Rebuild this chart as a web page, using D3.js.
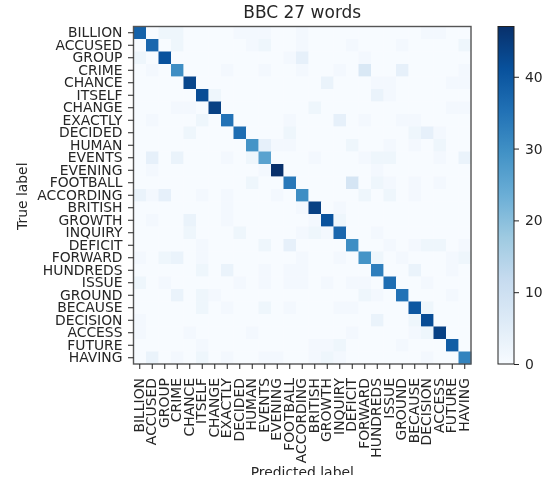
<!DOCTYPE html>
<html><head><meta charset="utf-8">
<script src="https://cdn.jsdelivr.net/npm/d3@7"></script>
<style>html,body{margin:0;padding:0;background:#fff}svg{display:block;filter:blur(0.4px)}text{font-family:"DejaVu Sans",sans-serif;fill:#262626}</style>
</head><body><div id="c"></div>
<script>
const words=["BILLION","ACCUSED","GROUP","CRIME","CHANCE","ITSELF","CHANGE","EXACTLY","DECIDED","HUMAN","EVENTS","EVENING","FOOTBALL","ACCORDING","BRITISH","GROWTH","INQUIRY","DEFICIT","FORWARD","HUNDREDS","ISSUE","GROUND","BECAUSE","DECISION","ACCESS","FUTURE","HAVING"];
const colorbarTicks=[0,10,20,30,40];
const blues=["#f7fbff","#deebf7","#c6dbef","#9ecae1","#6baed6","#4292c6","#2171b5","#08519c","#08306b"];
const r00=[38,0,2,2,0,0,0,0,1,1,1,0,0,1,0,0,0,0,0,0,0,0,0,1,1,0,0];
const r01=[0,37,0,2,0,0,0,0,0,1,2,0,0,1,0,0,0,1,0,0,0,1,0,0,0,0,2];
const r02=[2,0,41,0,0,0,0,0,0,0,0,0,1,4,0,0,0,0,1,0,0,0,0,0,0,0,0];
const r03=[0,1,0,30,0,0,0,1,0,0,1,0,0,1,0,0,1,0,7,0,0,4,0,0,0,0,1];
const r04=[0,0,0,0,43,0,0,0,0,0,0,0,0,0,0,3,0,0,0,1,1,0,0,0,0,1,1];
const r05=[0,0,0,0,0,42,2,0,0,0,0,0,0,0,0,0,0,0,0,3,1,0,0,0,0,0,0];
const r06=[0,0,0,1,1,0,44,0,0,0,0,0,0,0,2,0,0,0,0,0,0,0,0,0,0,1,1];
const r07=[0,1,0,0,0,2,0,35,0,0,0,0,1,0,0,0,4,0,1,0,0,1,1,0,0,0,0];
const r08=[0,0,0,0,2,0,0,0,36,0,0,0,2,0,0,0,0,0,0,0,0,0,2,4,1,0,0];
const r09=[0,0,0,0,0,0,0,0,0,29,4,1,1,0,0,0,0,2,0,0,1,0,1,0,2,0,0];
const r10=[0,4,0,3,0,0,0,1,0,2,26,0,0,0,1,0,0,0,1,2,2,0,0,0,1,0,3];
const r11=[0,1,0,0,0,0,0,0,0,0,1,47,0,0,0,0,0,0,0,1,0,0,0,0,0,0,0];
const r12=[0,0,0,0,0,0,0,0,0,2,0,0,34,0,0,0,0,8,0,2,1,0,1,0,1,0,0];
const r13=[3,1,4,0,0,1,0,1,0,0,0,1,0,30,0,0,0,0,2,0,2,0,1,0,0,0,0];
const r14=[0,0,0,0,0,0,0,1,0,0,0,0,0,1,44,0,1,0,0,0,0,0,0,0,0,0,0];
const r15=[0,1,0,0,3,0,0,1,0,0,0,0,0,0,1,41,2,0,0,0,0,0,0,0,0,0,0];
const r16=[0,0,0,0,2,0,0,0,2,0,0,0,0,1,2,1,37,0,0,1,0,0,0,0,0,0,0];
const r17=[0,0,0,0,0,1,0,0,0,0,2,0,4,0,0,0,0,30,0,0,1,0,1,2,2,0,1];
const r18=[1,0,2,3,0,1,0,0,0,0,0,0,0,1,0,0,1,0,29,2,0,1,0,0,0,1,2];
const r19=[0,0,0,0,0,2,0,3,0,0,1,0,1,1,0,0,0,0,0,33,0,0,3,0,0,1,0];
const r20=[2,0,1,0,0,0,0,0,1,0,1,0,1,1,0,1,0,1,1,0,36,0,0,1,0,0,0];
const r21=[0,0,0,3,0,2,1,0,0,0,0,0,0,0,0,0,0,0,2,1,0,35,0,0,0,1,0];
const r22=[0,0,0,0,0,2,0,1,0,0,2,0,1,0,0,0,1,1,0,0,0,0,40,2,0,0,0];
const r23=[1,0,0,0,0,0,0,0,0,0,0,0,0,0,0,0,0,0,0,3,0,0,2,42,0,0,0];
const r24=[1,0,0,0,1,0,0,0,0,1,0,0,0,0,0,0,0,1,0,0,0,0,1,2,44,0,0];
const r25=[0,0,0,0,0,1,0,0,0,0,0,0,0,0,1,1,2,0,0,0,0,1,0,0,0,39,0];
const r26=[0,3,0,1,0,2,0,1,0,0,1,1,0,0,1,2,1,0,0,0,0,0,0,1,0,0,32];
const matrix=[r00,r01,r02,r03,r04,r05,r06,r07,r08,r09,r10,r11,r12,r13,r14,r15,r16,r17,r18,r19,r20,r21,r22,r23,r24,r25,r26];

const W=553,H=480,L=133.5,T=26.5,S=337.5,CX=498,CW=16,vmax=47,FS=13.9;
const svg=d3.select("#c").append("svg").attr("width",W).attr("height",H);
const x=d3.scaleBand().domain(words).range([L,L+S]);
const y=d3.scaleBand().domain(words).range([T,T+S]);
const color=d3.scaleLinear().domain(blues.map((_,i)=>i/8*vmax)).range(blues);
const cells=matrix.flatMap((row,i)=>row.map((v,j)=>({v,r:words[i],c:words[j]})));
svg.append("g").attr("class","cells").selectAll("rect").data(cells).join("rect")
  .attr("x",d=>x(d.c)).attr("y",d=>y(d.r)).attr("width",x.bandwidth()+.3).attr("height",y.bandwidth()+.3)
  .attr("fill",d=>color(d.v));
svg.append("rect").attr("x",L).attr("y",T).attr("width",S).attr("height",S)
  .attr("fill","none").attr("stroke","#555").attr("stroke-width",1.4);

function style(g,fs){
  g.select(".domain").remove();
  g.selectAll("line").attr("stroke","#222").attr("stroke-width",1);
  g.selectAll("text").attr("font-size",fs).attr("fill","#262626");
}
svg.append("g").attr("transform",`translate(${L},0)`).call(d3.axisLeft(y).tickSize(5.5).tickPadding(5.5)).call(style,FS);
const gx=svg.append("g").attr("transform",`translate(0,${T+S})`).call(d3.axisBottom(x).tickSize(5).tickPadding(3)).call(style,FS);
gx.selectAll("text").attr("text-anchor","end").attr("dy",0).attr("dominant-baseline","middle")
  .attr("transform","translate(0,14) rotate(-90)").attr("x",0).attr("y",0);

const cy=d3.scaleLinear().domain([0,vmax]).range([T+S,T]);
const defs=svg.append("defs");
const grad=defs.append("linearGradient").attr("id","cb").attr("x1",0).attr("x2",0).attr("y1",1).attr("y2",0);
grad.selectAll("stop").data(blues).join("stop").attr("offset",(d,i)=>i/8).attr("stop-color",d=>d);
svg.append("rect").attr("x",CX).attr("y",T).attr("width",CW).attr("height",S).attr("fill","url(#cb)").attr("stroke","#222").attr("stroke-width",1);
svg.append("g").attr("transform",`translate(${CX+CW},0)`).call(d3.axisRight(cy).tickValues(colorbarTicks).tickSize(5).tickPadding(6)).call(style,FS);

svg.append("text").attr("x",L+S/2).attr("y",18).attr("text-anchor","middle").attr("font-size",17).text("BBC 27 words");
svg.append("text").attr("transform",`translate(27,${T+S/2+1}) rotate(-90)`).attr("text-anchor","middle").attr("font-size",FS).text("True label");
const clip=defs.append("clipPath").attr("id","cut");
clip.append("rect").attr("x",0).attr("y",0).attr("width",W).attr("height",475);
svg.append("g").attr("clip-path","url(#cut)").append("text").attr("x",L+S/2).attr("y",477).attr("text-anchor","middle").attr("font-size",FS).text("Predicted label");
</script></body></html>
